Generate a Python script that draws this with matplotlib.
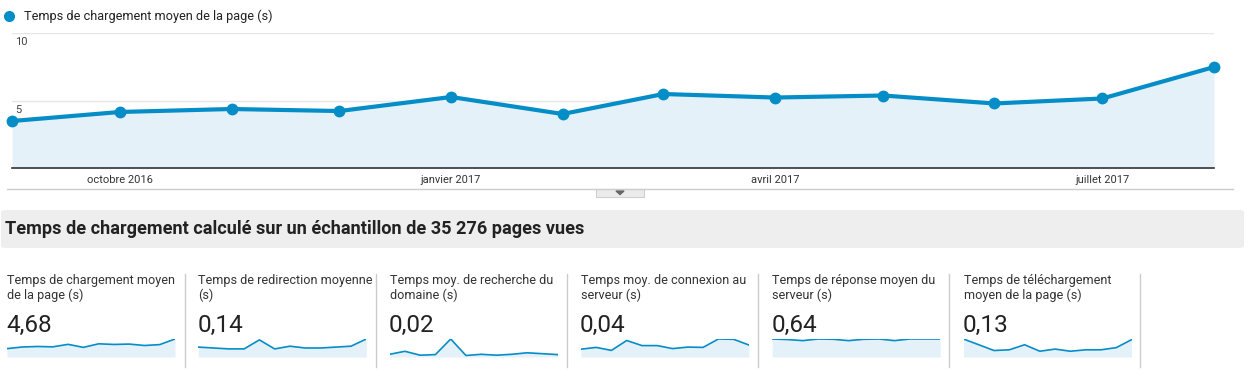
import datetime as dt

import matplotlib
matplotlib.use("Agg")
import matplotlib.pyplot as plt
import matplotlib.dates as mdates
import matplotlib.transforms as mtransforms
from matplotlib.patches import FancyBboxPatch, Rectangle, Polygon

plt.rcParams['font.family'] = ['Roboto', 'DejaVu Sans']

W, H = 1250, 379
BLUE = '#058DC7'
FILL = '#E5F1F9'

# main series: average page load time per month (s)
months = [dt.date(2016, 9, 1), dt.date(2016, 10, 1), dt.date(2016, 11, 1),
          dt.date(2016, 12, 1), dt.date(2017, 1, 1), dt.date(2017, 2, 1),
          dt.date(2017, 3, 1), dt.date(2017, 4, 1), dt.date(2017, 5, 1),
          dt.date(2017, 6, 1), dt.date(2017, 7, 1), dt.date(2017, 8, 1)]
load_time = [3.48, 4.15, 4.37, 4.22, 5.26, 4.0, 5.48, 5.22, 5.37, 4.78, 5.15, 7.48]

tick_dates = [dt.date(2016, 10, 1), dt.date(2017, 1, 1),
              dt.date(2017, 4, 1), dt.date(2017, 7, 1)]
tick_labels = ['octobre 2016', 'janvier 2017', 'avril 2017', 'juillet 2017']

# small metric cards
card_titles = ['Temps de chargement moyen\nde la page (s)',
               'Temps de redirection moyenne\n(s)',
               'Temps moy. de recherche du\ndomaine (s)',
               'Temps moy. de connexion au\nserveur (s)',
               'Temps de réponse moyen du\nserveur (s)',
               'Temps de téléchargement\nmoyen de la page (s)']
card_values = ['4,68', '0,14', '0,02', '0,04', '0,64', '0,13']
spark_load = [3.48, 4.15, 4.37, 4.22, 5.26, 4.0, 5.48, 5.22, 5.37, 4.78, 5.15, 7.48]
spark_redirect = [0.11, 0.10, 0.09, 0.09, 0.19, 0.09, 0.12, 0.10, 0.10, 0.11, 0.12, 0.20]
spark_domain = [0.009, 0.019, 0.006, 0.008, 0.06, 0.005, 0.009, 0.006, 0.009, 0.014, 0.011, 0.008]
spark_connect = [0.026, 0.032, 0.022, 0.055, 0.038, 0.038, 0.028, 0.033, 0.032, 0.06, 0.059, 0.04]
spark_response = [0.66, 0.64, 0.60, 0.66, 0.65, 0.60, 0.65, 0.66, 0.60, 0.66, 0.66, 0.66]
spark_download = [0.25, 0.17, 0.09, 0.10, 0.17, 0.08, 0.11, 0.08, 0.10, 0.10, 0.13, 0.24]
sparks = [spark_load, spark_redirect, spark_domain, spark_connect,
          spark_response, spark_download]


def px_axes(fig, x0, y0, x1, y1):
    return fig.add_axes([x0 / W, 1 - y1 / H, (x1 - x0) / W, (y1 - y0) / H])


def fx(x):
    return x / W


def fy(y):
    return 1 - y / H


fig = plt.figure(figsize=(W / 100, H / 100), dpi=100)
fig.patch.set_facecolor('white')

# legend
fig.add_artist(plt.Line2D([fx(9)], [fy(16)], marker='o', ms=7, color=BLUE,
                          transform=fig.transFigure))
fig.text(fx(24), fy(16), 'Temps de chargement moyen de la page (s)',
         fontsize=9.2, color='#222222', va='center', ha='left')

# main chart
ax = px_axes(fig, 12, 33, 1214, 168)
x = mdates.date2num(months)
ax.fill_between(x, load_time, 0, color=FILL, lw=0)
ax.plot(x, load_time, color=BLUE, lw=3, marker='o', ms=7.5, clip_on=False,
        solid_capstyle='round', zorder=3)
ax.set_xlim(x[0], x[-1])
ax.set_ylim(0, 10)
for s in ['top', 'right', 'left']:
    ax.spines[s].set_visible(False)
ax.spines['bottom'].set_color('#333333')
ax.spines['bottom'].set_linewidth(1.2)
ax.set_yticks([5, 10])
ax.set_yticklabels([])
ax.tick_params(axis='y', length=0)
ax.grid(axis='y', color='#e6e6e6', lw=1)
ax.set_axisbelow(True)
ax.set_xticks(mdates.date2num(tick_dates))
ax.set_xticklabels(tick_labels, fontsize=8, color='#333333')
ax.tick_params(axis='x', length=0, pad=5)
trans = mtransforms.blended_transform_factory(ax.transAxes, ax.transData)
for v in [5, 10]:
    ax.annotate(str(v), (0, v), xycoords=trans, xytext=(2, -3),
                textcoords='offset points', fontsize=8, color='#444444',
                va='top', ha='left')

# bottom rule and toggle button
fig.add_artist(plt.Line2D([fx(7), fx(1233)], [fy(189), fy(189)],
                          color='#cccccc', lw=1))
fig.add_artist(Rectangle((fx(596), fy(197)), fx(48), 8 / H, facecolor='#ebebeb',
                         edgecolor='#cfcfcf', lw=0.8, transform=fig.transFigure))
fig.add_artist(Polygon([(fx(616), fy(191)), (fx(624), fy(191)), (fx(620), fy(194.5))],
                       closed=True, color='#666666', transform=fig.transFigure))

# section header
fig.add_artist(FancyBboxPatch((fx(1), fy(248)), fx(1243), 38 / H,
                              boxstyle='round,pad=0,rounding_size=0.005',
                              facecolor='#eeeeee', edgecolor='none',
                              transform=fig.transFigure))
fig.text(fx(5), fy(229), 'Temps de chargement calculé sur un échantillon de 35 276 pages vues',
         fontsize=13.1, fontweight='bold', color='#222222', va='center', ha='left')

# metric cards
for i in range(6):
    left = 7 + i * 191.3
    fig.text(fx(left), fy(274), card_titles[i], fontsize=9.1, color='#333333',
             va='top', ha='left', linespacing=1.15)
    fig.text(fx(left - 1), fy(325), card_values[i], fontsize=17.5, color='#222222',
             va='center', ha='left')
    sax = px_axes(fig, left, 339, left + 168, 357)
    vals = sparks[i]
    sx = list(range(len(vals)))
    sax.fill_between(sx, vals, 0, color=FILL, lw=0)
    sax.plot(sx, vals, color=BLUE, lw=1.2)
    sax.set_xlim(0, len(vals) - 1)
    sax.set_ylim(0, max(vals))
    sax.axis('off')
    sep = 185 + i * 191
    fig.add_artist(plt.Line2D([fx(sep), fx(sep)], [fy(274), fy(367)],
                              color='#cccccc', lw=1))

fig.savefig('out.png', dpi=100, facecolor='white')
